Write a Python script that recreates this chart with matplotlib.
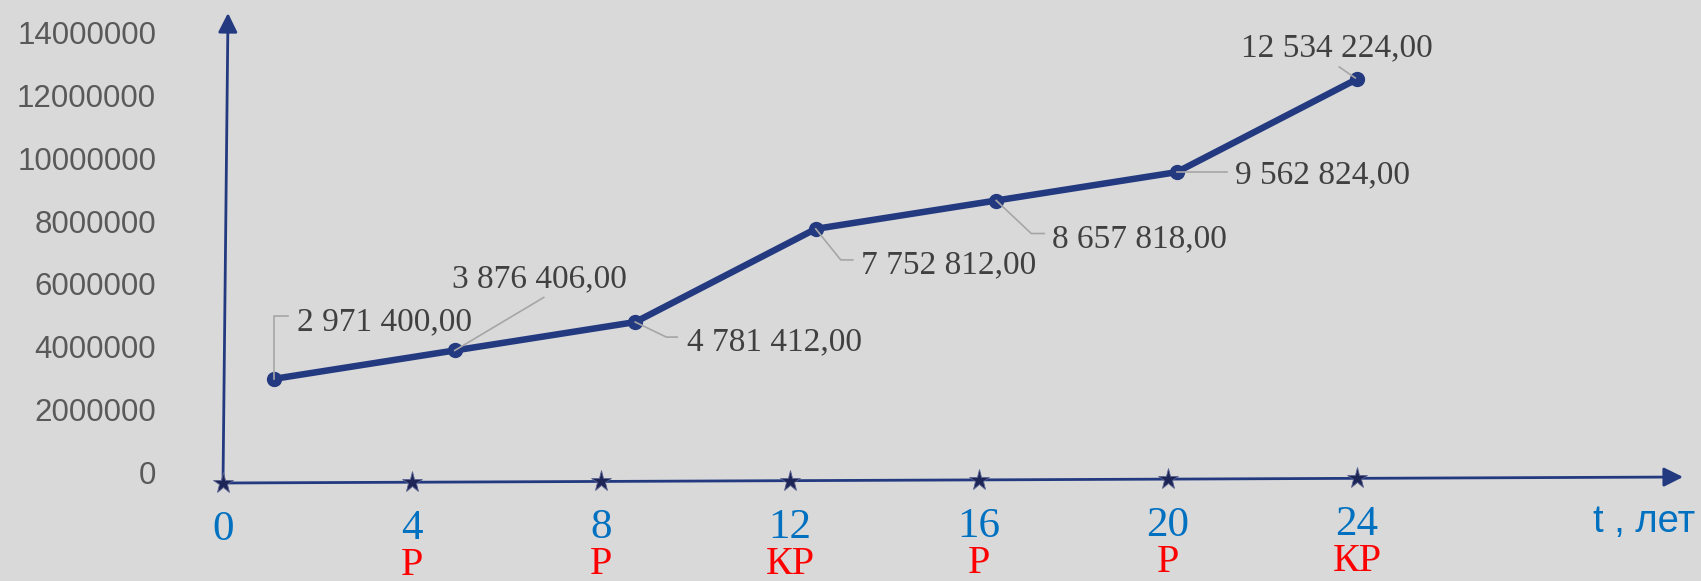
import matplotlib.pyplot as plt
from matplotlib.lines import Line2D
from matplotlib.transforms import IdentityTransform

# investment value by period
values = [2971400.00, 3876406.00, 4781412.00, 7752812.00, 8657818.00, 9562824.00, 12534224.00]
y_ticks = [0, 2000000, 4000000, 6000000, 8000000, 10000000, 12000000, 14000000]

# time axis: years and repair type under each mark
years = [0, 4, 8, 12, 16, 20, 24]
repairs = ["", "Р", "Р", "КР", "Р", "Р", "КР"]
axis_label = "t , лет"

W, H, DPI = 1701, 581, 100
BG = "#D9D9D9"
NAVY = "#243A80"
BLUE = "#0070C0"
PX = 72.0 / DPI  # pixels -> points

fig = plt.figure(figsize=(W / DPI, H / DPI), dpi=DPI, facecolor=BG)

# ---- chart part ----
ax = fig.add_axes([184 / W, 109 / H, 1263.5 / W, 439 / H])
ax.set_facecolor("none")
ax.set_xlim(-0.5, len(values) - 0.5)
ax.set_ylim(0, 14000000)
for s in ax.spines.values():
    s.set_visible(False)
ax.set_xticks([])
ax.set_yticks(y_ticks)
ax.set_yticklabels([str(v) for v in y_ticks], family="Liberation Sans", fontsize=22.5, color="#595959")
ax.tick_params(axis="y", length=0, pad=20)

xs = list(range(len(values)))
ax.plot(xs, values, color=NAVY, lw=4.7, marker="o", ms=10, solid_capstyle="round", zorder=3)


def fmt(v):
    return f"{v:,.2f}".replace(",", " ").replace(".", ",")


# label offsets (px, y up) of left edge / text centre, and leader polylines
text_off = [(23, 60), (-3, 74), (52, -17), (45, -33), (56, -36), (58, 0), (-116, 34)]
leaders = [
    [(0, 0), (0, 63), (14, 63)],
    [(0, 0), (89, 53)],
    [(0, 0), (31, -15), (42, -15)],
    [(0, 0), (25, -31), (37, -31)],
    [(0, 0), (35, -33), (48, -33)],
    [(0, 0), (50, 0)],
    [(-2, 1), (-18, 12)],
]

for x, v, (dx, dy), lead in zip(xs, values, text_off, leaders):
    ax.annotate(fmt(v), (x, v), xytext=(dx * PX, (dy - 11) * PX), textcoords="offset points",
                ha="left", va="baseline", family="Liberation Serif", fontsize=24, color="#404040")
    px0, py0 = ax.transData.transform((x, v))
    fig.add_artist(Line2D([px0 + a for a, b in lead], [py0 + b for a, b in lead],
                          transform=IdentityTransform(), color="#A6A6A6", lw=1.2, zorder=2))

# ---- time axis drawn over the chart ----
axt = fig.add_axes([223 / W, 98 / H, (1357 - 223) / W, 470 / H])
axt.set_xlim(0, 24)
axt.set_ylim(0, 1)
axt.axis("off")

x_end = 30.9
rise = 6 / 470  # the axis line climbs slightly to the right


def axis_y(t):
    return rise * t / x_end


arrow = dict(arrowstyle="-|>,head_length=0.58,head_width=0.29", color=NAVY, lw=2, mutation_scale=20,
             shrinkA=0, shrinkB=0)
axt.annotate("", xy=(x_end, rise), xytext=(0, 0), arrowprops=arrow, annotation_clip=False)
axt.annotate("", xy=(0.106, 1), xytext=(0, 0), arrowprops=arrow, annotation_clip=False)

axt.plot(years, [axis_y(t) for t in years], ls="none", marker="*", ms=15.5,
         mfc="#1D2556", mec="#5A6290", mew=0.6, clip_on=False, zorder=5)

for t, r in zip(years, repairs):
    axt.annotate(str(t), (t, axis_y(t)), xytext=(0, -57 * PX), textcoords="offset points",
                 ha="center", va="baseline", family="Liberation Serif", fontsize=31, color=BLUE,
                 annotation_clip=False)
    if r:
        axt.annotate(r, (t, axis_y(t)), xytext=(0, -93 * PX), textcoords="offset points",
                     ha="center", va="baseline", family="Liberation Serif", fontsize=29, color="#FF0000",
                     annotation_clip=False)

axt.annotate(axis_label, (x_end, rise), xytext=(-90 * PX, -55 * PX), textcoords="offset points",
             ha="left", va="baseline", family="Liberation Sans", fontsize=27.5, color=BLUE,
             annotation_clip=False)

fig.savefig("out.png", dpi=DPI, facecolor=BG)
